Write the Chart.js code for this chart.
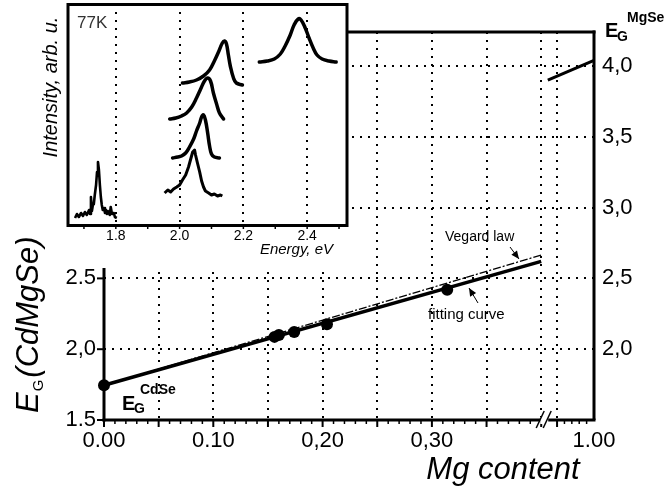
<!DOCTYPE html>
<html>
<head>
<meta charset="utf-8">
<script src="https://cdn.jsdelivr.net/npm/chart.js@4.4.1/dist/chart.umd.min.js"></script>
<style>
  html, body { margin: 0; padding: 0; background: #fff; }
  #wrap { position: relative; width: 666px; height: 488px; }
  #main, #inset { position: absolute; left: 0; top: 0; }
</style>
</head>
<body>
<div id="wrap">
  <canvas id="main" width="666" height="488"></canvas>
  <canvas id="inset" width="352" height="262"></canvas>
</div>
<script>
// ---- main panel: band gap vs Mg content ----
const mgContent = [0.0, 0.156, 0.160, 0.174, 0.204, 0.314];
const gapMeasured = [1.745, 2.087, 2.100, 2.122, 2.176, 2.420];

const fitX = [0.0, 0.40];
const fitY = [1.745, 2.620];
const vegardX = [0.0, 0.40];
const vegardY = [1.745, 2.665];
const mgseX = [0.875, 1.0];
const mgseY = [3.90, 4.04];

const xTickValues = [0.0, 0.10, 0.20, 0.30, 1.00];
const xTickLabels = ['0.00', '0.10', '0,20', '0,30', '1.00'];
const leftTickValues = [1.5, 2.0, 2.5];
const leftTickLabels = ['1.5', '2,0', '2.5'];
const rightTickValues = [2.0, 2.5, 3.0, 3.5, 4.0];
const rightTickLabels = ['2,0', '2,5', '3,0', '3,5', '4,0'];
const gridXValues = [0.05, 0.10, 0.15, 0.20, 0.25, 0.30, 0.35, 0.40, 0.90];
const gridYValues = [2.0, 2.5, 3.0, 3.5, 4.0];

// ---- inset: PL spectra at 77K ----
const cdseE = [1.672, 1.678, 1.684, 1.691, 1.697, 1.703, 1.709, 1.716, 1.719, 1.722, 1.725, 1.728, 1.731, 1.734, 1.738, 1.741, 1.744, 1.747, 1.750, 1.753, 1.756, 1.759, 1.763, 1.766, 1.769, 1.772, 1.775, 1.781, 1.784, 1.788, 1.794, 1.797, 1.803];
const cdseI = [7, 11, 8, 12, 9, 13, 10, 15, 11, 28, 14, 20, 21, 30, 40, 53, 63, 55, 40, 28, 20, 15, 17, 12, 15, 11, 14, 10, 18, 11, 12, 8, 7];
const specAE = [1.953, 1.963, 1.972, 1.981, 1.991, 2.000, 2.009, 2.019, 2.028, 2.034, 2.041, 2.047, 2.050, 2.056, 2.063, 2.069, 2.075, 2.081, 2.091, 2.100, 2.109, 2.119, 2.128, 2.134];
const specAI = [32, 35, 33, 36, 38, 40, 45, 50, 58, 65, 73, 75, 70, 62, 53, 44, 38, 34, 32, 30, 31, 29, 30, 29];
const specBE = [1.978, 1.994, 2.006, 2.019, 2.031, 2.044, 2.053, 2.063, 2.069, 2.075, 2.081, 2.088, 2.094, 2.100, 2.109, 2.125];
const specBI = [67, 68, 69, 72, 78, 86, 94, 102, 108, 110, 105, 92, 79, 71, 68, 67];
const specCE = [1.969, 1.988, 2.006, 2.022, 2.038, 2.053, 2.066, 2.078, 2.088, 2.097, 2.106, 2.116, 2.125, 2.138];
const specCI = [106, 107, 109, 112, 118, 127, 136, 144, 147, 144, 132, 121, 112, 106];
const specDE = [2.009, 2.031, 2.053, 2.075, 2.094, 2.109, 2.122, 2.134, 2.141, 2.147, 2.153, 2.159, 2.169, 2.178, 2.197];
const specDI = [142, 143, 145, 149, 155, 164, 173, 182, 184, 181, 170, 159, 147, 142, 140];
const specEE = [2.250, 2.275, 2.297, 2.316, 2.331, 2.347, 2.359, 2.372, 2.381, 2.394, 2.406, 2.419, 2.431, 2.447, 2.469, 2.491];
const specEI = [163, 164, 166, 171, 179, 190, 200, 206, 205, 197, 187, 177, 170, 166, 164, 163];

const insetTickValues = [1.8, 2.0, 2.2, 2.4];
const insetTickLabels = ['1.8', '2.0', '2.2', '2.4'];

// x axis is broken between 0.40 and 0.90
const BREAK_LO = 0.42, POST_START = 0.90, POST_POS = 0.4145, POST_SCALE = 0.338;
function axisX(v) {
  return v <= BREAK_LO ? v : POST_POS + (v - POST_START) * POST_SCALE;
}
const X_MAX = axisX(1.0);

const INSET_W = 352, INSET_H = 268, INSET_R = 347;
const FONT = "'Liberation Sans', Arial, sans-serif";
Chart.defaults.font.family = FONT;
Chart.defaults.color = '#000';

function seg(ctx, x1, y1, x2, y2) {
  ctx.beginPath(); ctx.moveTo(x1, y1); ctx.lineTo(x2, y2); ctx.stroke();
}
function arrow(ctx, x1, y1, x2, y2) {
  seg(ctx, x1, y1, x2, y2);
  const ang = Math.atan2(y2 - y1, x2 - x1), L = 8, W = 3.5;
  const bx = x2 - L * Math.cos(ang), by = y2 - L * Math.sin(ang);
  ctx.beginPath();
  ctx.moveTo(x2, y2);
  ctx.lineTo(bx + W * Math.sin(ang), by - W * Math.cos(ang));
  ctx.lineTo(bx - W * Math.sin(ang), by + W * Math.cos(ang));
  ctx.closePath(); ctx.fill();
}
function text(ctx, s, x, y, font, align) {
  ctx.font = font; ctx.textAlign = align || 'left'; ctx.fillText(s, x, y);
}
const pts = (xs, ys) => xs.map((v, i) => ({ x: axisX(v), y: ys[i] }));
const spec = (xs, ys) => xs.map((v, i) => ({ x: v, y: ys[i] }));

const mainDecor = {
  id: 'mainDecor',
  beforeDatasetsDraw(chart) {
    const { ctx, chartArea: a, scales } = chart;
    const x = scales.x, y = scales.y;
    ctx.save();
    ctx.strokeStyle = '#000';
    ctx.lineWidth = 2;
    ctx.setLineDash([2, 6]);
    gridXValues.forEach(v => { const px = Math.round(x.getPixelForValue(axisX(v))); seg(ctx, px, a.top, px, a.bottom); });
    gridYValues.forEach(v => { const py = Math.round(y.getPixelForValue(v)); seg(ctx, a.left, py, a.right, py); });
    ctx.setLineDash([]);
    // space under the inset
    ctx.fillStyle = '#fff';
    ctx.fillRect(0, 0, INSET_W, INSET_H);
    // frame
    ctx.lineWidth = 3;
    seg(ctx, a.left, INSET_H, a.left, a.bottom + 1.5);
    seg(ctx, a.left - 1.5, a.bottom, a.right + 1.5, a.bottom);
    seg(ctx, a.right, a.top - 1.5, a.right, a.bottom);
    seg(ctx, INSET_R, a.top, a.right + 1.5, a.top);
    // ticks
    for (let k = 0; k <= 40; k++) {
      const px = x.getPixelForValue(k / 100);
      ctx.lineWidth = k % 5 === 0 ? 2 : 1.5;
      seg(ctx, px, a.bottom, px, a.bottom + (k % 5 === 0 ? 7 : 4));
    }
    for (let k = 0; k < 5; k++) {
      const px = x.getPixelForValue(axisX(0.90 + k * 0.02));
      ctx.lineWidth = k === 0 ? 2 : 1.5;
      seg(ctx, px, a.bottom, px, a.bottom + (k === 0 ? 7 : 4));
    }
    ctx.lineWidth = 2;
    leftTickValues.forEach(v => { const py = y.getPixelForValue(v); seg(ctx, a.left - 7, py, a.left, py); });
    // axis break
    const bx = x.getPixelForValue(axisX(0.40)) + 4;
    ctx.fillStyle = '#fff';
    ctx.fillRect(bx - 5, a.bottom - 3, 8, 7);
    ctx.lineWidth = 1.5;
    seg(ctx, bx - 9, a.bottom + 8, bx - 1, a.bottom - 9);
    seg(ctx, bx - 2, a.bottom + 8, bx + 6, a.bottom - 9);
    ctx.restore();
  },
  afterDraw(chart) {
    const { ctx } = chart;
    ctx.save();
    ctx.fillStyle = '#000';
    ctx.strokeStyle = '#000';
    ctx.textBaseline = 'alphabetic';
    // y title
    ctx.save();
    ctx.translate(38, 413);
    ctx.rotate(-Math.PI / 2);
    text(ctx, 'E', 0, 0, 'italic 31px ' + FONT);
    const wE = ctx.measureText('E').width;
    text(ctx, 'G', wE + 1, 5, '15px ' + FONT);
    const wG = ctx.measureText('G').width;
    text(ctx, '(CdMgSe)', wE + wG + 3, 0, 'italic 31px ' + FONT);
    ctx.restore();
    // x title
    text(ctx, 'Mg content', 503, 479, 'italic 31px ' + FONT, 'center');
    // band gap labels
    text(ctx, 'E', 122, 410, 'bold 20px ' + FONT);
    text(ctx, 'G', 134, 413, 'bold 14px ' + FONT);
    text(ctx, 'CdSe', 140, 394, 'bold 14px ' + FONT);
    text(ctx, 'E', 605, 37, 'bold 20px ' + FONT);
    text(ctx, 'G', 617, 41, 'bold 14px ' + FONT);
    text(ctx, 'MgSe', 627, 22, 'bold 14px ' + FONT);
    // line annotations
    text(ctx, 'Vegard law', 445, 241, '14px ' + FONT);
    text(ctx, 'fitting curve', 428, 319, '15px ' + FONT);
    ctx.lineWidth = 1;
    arrow(ctx, 510, 247, 519, 259);
    arrow(ctx, 478, 303, 469, 288);
    ctx.restore();
  }
};

new Chart(document.getElementById('main'), {
  type: 'line',
  data: {
    datasets: [
      { label: 'Vegard law', data: pts(vegardX, vegardY), borderColor: '#000', borderWidth: 1.3, borderDash: [8, 2, 2, 2], pointRadius: 0, clip: false },
      { label: 'fitting curve', data: pts(fitX, fitY), borderColor: '#000', borderWidth: 3.5, pointRadius: 0, clip: false },
      { label: 'MgSe side', data: pts(mgseX, mgseY), borderColor: '#000', borderWidth: 3, pointRadius: 0, clip: false },
      { label: 'measured', data: pts(mgContent, gapMeasured), showLine: false, pointRadius: 6, pointBackgroundColor: '#000', pointBorderColor: '#000', pointBorderWidth: 0, clip: false }
    ]
  },
  options: {
    responsive: false,
    animation: false,
    layout: { padding: { top: 32, left: 0, right: 0, bottom: 0 } },
    plugins: { legend: { display: false }, tooltip: { enabled: false } },
    scales: {
      x: {
        type: 'linear', min: 0, max: X_MAX,
        grid: { display: false, drawTicks: false }, border: { display: false },
        afterBuildTicks: s => { s.ticks = xTickValues.map(v => ({ value: axisX(v) })); },
        afterFit: s => { s.height = 68; },
        ticks: { autoSkip: false, maxRotation: 0, padding: 8, font: { size: 22 }, z: 1, callback: (v, i) => xTickLabels[i] }
      },
      y: {
        position: 'left', min: 1.5, max: 4.24,
        grid: { display: false, drawTicks: false }, border: { display: false },
        afterBuildTicks: s => { s.ticks = leftTickValues.map(v => ({ value: v })); },
        afterFit: s => { s.width = 104; },
        ticks: { padding: 8, font: { size: 22 }, z: 1, callback: (v, i) => leftTickLabels[i] }
      },
      y2: {
        position: 'right', min: 1.5, max: 4.24,
        grid: { display: false, drawTicks: false }, border: { display: false },
        afterBuildTicks: s => { s.ticks = rightTickValues.map(v => ({ value: v })); },
        afterFit: s => { s.width = 72; },
        ticks: { padding: 8, font: { size: 22 }, z: 1, callback: (v, i) => rightTickLabels[i] }
      }
    }
  },
  plugins: [mainDecor]
});

const insetDecor = {
  id: 'insetDecor',
  beforeDatasetsDraw(chart) {
    const { ctx, chartArea: a, scales: { x } } = chart;
    ctx.save();
    ctx.strokeStyle = '#000';
    ctx.lineWidth = 2;
    ctx.setLineDash([2, 6]);
    insetTickValues.forEach(v => { const px = Math.round(x.getPixelForValue(v)); seg(ctx, px, a.top, px, a.bottom); });
    ctx.setLineDash([]);
    ctx.lineWidth = 1.5;
    for (let k = 17; k <= 25; k++) {
      const px = x.getPixelForValue(k / 10);
      seg(ctx, px, a.bottom, px, a.bottom + 4);
    }
    ctx.restore();
  },
  afterDatasetsDraw(chart) {
    const { ctx, chartArea: a } = chart;
    ctx.save();
    ctx.strokeStyle = '#000';
    ctx.lineWidth = 3;
    ctx.strokeRect(a.left, a.top + 0.5, a.right - a.left, a.bottom - a.top);
    ctx.restore();
  },
  afterDraw(chart) {
    const { ctx } = chart;
    ctx.save();
    ctx.fillStyle = '#000';
    text(ctx, 'Energy, eV', 333, 254, 'italic 15px ' + FONT, 'right');
    ctx.fillStyle = '#333';
    text(ctx, '77K', 77, 28, '17px ' + FONT);
    ctx.fillStyle = '#000';
    ctx.translate(57, 87);
    ctx.rotate(-Math.PI / 2);
    text(ctx, 'Intensity, arb. u.', 0, 0, 'italic 20px ' + FONT, 'center');
    ctx.restore();
  }
};

const noisy = { borderColor: '#000', pointRadius: 0, tension: 0, borderJoinStyle: 'round' };
const smooth = { borderColor: '#000', pointRadius: 0, tension: 0.4, borderWidth: 3.5, borderCapStyle: 'round' };

new Chart(document.getElementById('inset'), {
  type: 'line',
  data: {
    datasets: [
      Object.assign({ label: 'x=0', data: spec(cdseE, cdseI), borderWidth: 2.6 }, noisy),
      Object.assign({ label: 'A', data: spec(specAE, specAI), borderWidth: 3 }, noisy),
      Object.assign({ label: 'B', data: spec(specBE, specBI) }, smooth),
      Object.assign({ label: 'C', data: spec(specCE, specCI) }, smooth),
      Object.assign({ label: 'D', data: spec(specDE, specDI) }, smooth),
      Object.assign({ label: 'E', data: spec(specEE, specEI) }, smooth)
    ]
  },
  options: {
    responsive: false,
    animation: false,
    layout: { padding: { left: 68, right: 5, top: 4, bottom: 0 } },
    plugins: { legend: { display: false }, tooltip: { enabled: false } },
    scales: {
      x: {
        type: 'linear', min: 1.65, max: 2.525,
        grid: { display: false, drawTicks: false }, border: { display: false },
        afterBuildTicks: s => { s.ticks = insetTickValues.map(v => ({ value: v })); },
        afterFit: s => { s.height = 37; },
        ticks: { autoSkip: false, maxRotation: 0, padding: 3, font: { size: 14 }, callback: (v, i) => insetTickLabels[i] }
      },
      y: { display: false, min: 0, max: 221 }
    }
  },
  plugins: [insetDecor]
});
</script>
</body>
</html>
